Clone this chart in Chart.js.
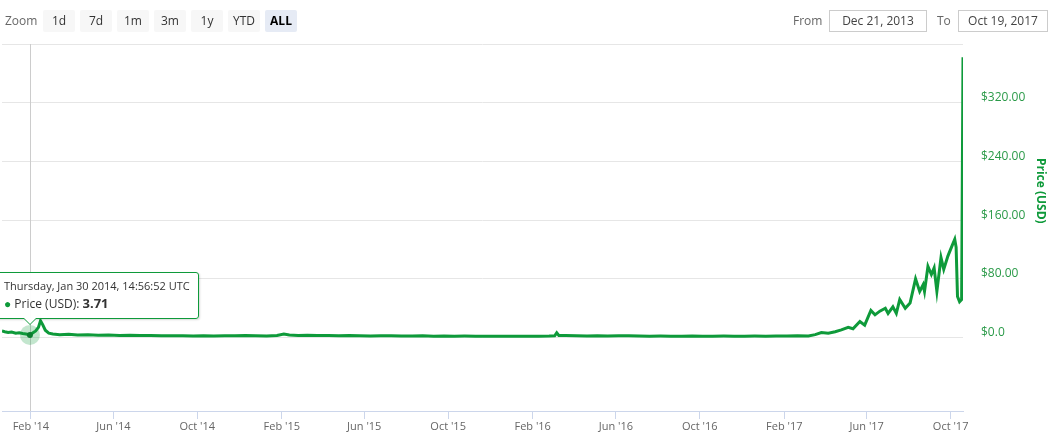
<!DOCTYPE html>
<html>
<head>
<meta charset="utf-8">
<script src="https://cdn.jsdelivr.net/npm/chart.js@4.4.0/dist/chart.umd.min.js"></script>
<style>
  body { margin: 0; background: #fff; font-family: 'Open Sans', sans-serif; }
  #wrap { position: relative; width: 1056px; height: 443px; overflow: hidden; }
  #chart { position: absolute; left: 0; top: 0; }
  .lbl { position: absolute; top: 12px; font-size: 12px; color: #666; line-height: 18px; }
  .btn { position: absolute; top: 10px; width: 32px; height: 22px; line-height: 22px; text-align: center;
         font-size: 12px; color: #333; background: #f7f7f7; border-radius: 2px; }
  .btn.sel { background: #e6ebf5; color: #000; font-weight: bold; }
  .box { position: absolute; top: 10px; height: 20px; line-height: 20px; border: 1px solid #ccc;
         font-size: 12px; color: #444; text-align: center; }
  #tip { position: absolute; display: none; background: rgba(255,255,255,0.95); border: 1px solid #0e9a3a;
         border-radius: 3px; box-shadow: 1px 1px 2px rgba(0,0,0,0.15); padding: 5px 8px 5px 8px;
         white-space: nowrap; pointer-events: none; }
  #tip .t { font-size: 11px; color: #333; line-height: 16px; }
  #tip .b { font-size: 12px; color: #333; line-height: 18px; }
  #tip .b b { font-size: 13px; }
  #tip .b span.dot { color: #0e9a3a; }
  #tip .caret { position: absolute; width: 0; height: 0; border-left: 7px solid transparent;
         border-right: 7px solid transparent; border-top: 7px solid #0e9a3a; }
  #tip .caret2 { position: absolute; width: 0; height: 0; border-left: 6px solid transparent;
         border-right: 6px solid transparent; border-top: 6px solid #fff; }
</style>
</head>
<body>
<div id="wrap">
  <canvas id="chart" width="1056" height="443"></canvas>
  <div class="lbl" style="left:5px">Zoom</div>
  <div class="btn" style="left:43px">1d</div>
  <div class="btn" style="left:80px">7d</div>
  <div class="btn" style="left:117px">1m</div>
  <div class="btn" style="left:154px">3m</div>
  <div class="btn" style="left:191px">1y</div>
  <div class="btn" style="left:228px">YTD</div>
  <div class="btn sel" style="left:265px">ALL</div>
  <div class="lbl" style="left:793px">From</div>
  <div class="box" style="left:829px;width:96px">Dec 21, 2013</div>
  <div class="lbl" style="left:937px">To</div>
  <div class="box" style="left:958px;width:88px">Oct 19, 2017</div>
  <div id="tip"><div class="t"></div><div class="b"></div><div class="caret"></div><div class="caret2"></div></div>
</div>
<script>
// Price history (USD)
const dates = [
  '2013-12-21', '2013-12-25', '2013-12-30', '2014-01-04', '2014-01-10', '2014-01-15', '2014-01-20', '2014-01-25',
  '2014-01-30T14:56:52Z', '2014-02-03', '2014-02-08', '2014-02-12', '2014-02-15', '2014-02-18', '2014-02-22', '2014-02-27',
  '2014-03-05', '2014-03-15', '2014-03-28', '2014-04-10', '2014-04-25', '2014-05-10', '2014-05-25', '2014-06-10',
  '2014-06-25', '2014-07-10', '2014-07-25', '2014-08-10', '2014-08-25', '2014-09-10', '2014-09-25', '2014-10-10',
  '2014-10-25', '2014-11-10', '2014-11-25', '2014-12-10', '2014-12-25', '2015-01-10', '2015-01-25', '2015-02-04',
  '2015-02-12', '2015-02-25', '2015-03-10', '2015-03-25', '2015-04-10', '2015-04-25', '2015-05-10', '2015-05-25',
  '2015-06-10', '2015-06-25', '2015-07-10', '2015-07-25', '2015-08-10', '2015-08-25', '2015-09-10', '2015-09-25',
  '2015-10-10', '2015-10-25', '2015-11-10', '2015-11-25', '2015-12-10', '2015-12-25', '2016-01-10', '2016-01-25',
  '2016-02-10', '2016-02-25', '2016-03-04', '2016-03-07', '2016-03-10', '2016-03-20', '2016-04-05', '2016-04-20',
  '2016-05-05', '2016-05-20', '2016-06-05', '2016-06-20', '2016-07-05', '2016-07-20', '2016-08-05', '2016-08-20',
  '2016-09-05', '2016-09-20', '2016-10-05', '2016-10-20', '2016-11-05', '2016-11-20', '2016-12-05', '2016-12-20',
  '2017-01-05', '2017-01-20', '2017-02-05', '2017-02-20', '2017-03-08', '2017-03-18', '2017-03-27', '2017-04-06',
  '2017-04-16', '2017-04-25', '2017-05-05', '2017-05-12', '2017-05-22', '2017-05-29', '2017-06-07', '2017-06-13',
  '2017-06-20', '2017-06-28', '2017-07-02', '2017-07-09', '2017-07-14', '2017-07-19', '2017-07-27', '2017-08-03',
  '2017-08-11', '2017-08-17', '2017-08-22', '2017-08-24', '2017-08-29', '2017-09-03', '2017-09-07', '2017-09-11',
  '2017-09-17', '2017-09-21', '2017-09-27', '2017-10-03', '2017-10-07', '2017-10-09', '2017-10-11', '2017-10-14',
  '2017-10-17', '2017-10-19'
];
const prices = [
  9, 8, 7, 7.5, 6, 6.5, 5.5, 5,
  3.71, 6, 9, 14, 23, 18, 10, 6,
  5, 4, 4.5, 3.5, 3.8, 3.2, 3.5, 3,
  3.3, 2.8, 3, 2.6, 2.4, 2.6, 2.2, 2.5,
  2.3, 2.6, 2.4, 2.8, 2.5, 2.3, 3, 5,
  3.5, 3, 3.2, 2.8, 2.7, 2.5, 2.8, 2.4,
  2.2, 2.5, 2.6, 2.3, 2.1, 2.4, 2, 2.2,
  1.9, 2.1, 2, 1.8, 2, 1.9, 1.8, 2,
  1.9, 2.1, 2.4, 6.5, 3, 2.8, 2.6, 2.3,
  2.5, 2.2, 2.6, 2.4, 2.2, 2, 2.1, 1.9,
  2, 2.2, 2, 1.9, 2.1, 2, 1.9, 2.1,
  2, 2.2, 2.1, 2.4, 2.3, 4, 6.9, 6,
  8, 10.5, 14, 12, 22, 17, 37, 31,
  36, 40, 33, 42, 33, 52, 40, 47,
  80, 63, 72, 63, 97, 86, 95, 63,
  109, 93, 111, 125, 134, 123, 56, 49,
  52, 382
];
const xStart = '2013-12-21';
const xEnd = '2017-10-19';
const xTickDates = ['2014-02-01', '2014-06-01', '2014-10-01', '2015-02-01', '2015-06-01', '2015-10-01',
  '2016-02-01', '2016-06-01', '2016-10-01', '2017-02-01', '2017-06-01', '2017-10-01'];
const yTicks = [0, 80, 160, 240, 320, 400];
const yMin = -100;
const yMax = 400;
const seriesName = 'Price (USD)';
const activeDate = '2014-01-30T14:56:52Z';

const green = '#0e9a3a';
const monthNames = ['Jan', 'Feb', 'Mar', 'Apr', 'May', 'Jun', 'Jul', 'Aug', 'Sep', 'Oct', 'Nov', 'Dec'];
const dayNames = ['Sunday', 'Monday', 'Tuesday', 'Wednesday', 'Thursday', 'Friday', 'Saturday'];
const pad2 = n => String(n).padStart(2, '0');

const points = dates.map((d, i) => ({ x: Date.parse(d), y: prices[i] }));
const activeIndex = dates.indexOf(activeDate);

// crosshair + halo around the hovered point, and the rotated axis title
const extras = {
  id: 'extras',
  beforeDatasetsDraw(chart) {
    const el = chart.getDatasetMeta(0).data[activeIndex];
    if (!el) return;
    const { ctx, chartArea } = chart;
    ctx.save();
    ctx.strokeStyle = '#cccccc';
    ctx.lineWidth = 1;
    ctx.beginPath();
    ctx.moveTo(Math.round(el.x) + 0.5, chartArea.top);
    ctx.lineTo(Math.round(el.x) + 0.5, chartArea.bottom);
    ctx.stroke();
    ctx.restore();
  },
  afterDatasetsDraw(chart) {
    const { ctx } = chart;
    const el = chart.getDatasetMeta(0).data[activeIndex];
    if (el) {
      ctx.save();
      ctx.fillStyle = 'rgba(14,154,58,0.25)';
      ctx.beginPath();
      ctx.arc(el.x, el.y, 10, 0, Math.PI * 2);
      ctx.fill();
      ctx.fillStyle = '#0b7d2f';
      ctx.beginPath();
      ctx.arc(el.x, el.y, 3, 0, Math.PI * 2);
      ctx.fill();
      ctx.restore();
    }
    const ys = chart.scales.y;
    ctx.save();
    ctx.translate(chart.width - 16, ys.getPixelForValue((yTicks[0] + yTicks[yTicks.length - 1]) / 2));
    ctx.rotate(Math.PI / 2);
    ctx.font = "bold 12px 'Open Sans'";
    ctx.fillStyle = green;
    ctx.textAlign = 'center';
    ctx.textBaseline = 'middle';
    ctx.fillText(seriesName, 0, 0);
    ctx.restore();
  }
};

function externalTip(context) {
  const { tooltip } = context;
  const tip = document.getElementById('tip');
  if (!tooltip.dataPoints || !tooltip.dataPoints.length) { tip.style.display = 'none'; return; }
  const dp = tooltip.dataPoints[0];
  const d = new Date(dp.raw.x);
  tip.querySelector('.t').textContent = dayNames[d.getUTCDay()] + ', ' + monthNames[d.getUTCMonth()] + ' ' +
    pad2(d.getUTCDate()) + ' ' + d.getUTCFullYear() + ', ' + pad2(d.getUTCHours()) + ':' +
    pad2(d.getUTCMinutes()) + ':' + pad2(d.getUTCSeconds()) + ' UTC';
  tip.querySelector('.b').innerHTML = '<span class="dot">\u25CF</span> ' + seriesName + ': <b>' + dp.raw.y.toFixed(2) + '</b>';
  tip.style.display = 'block';
  const w = tip.offsetWidth, h = tip.offsetHeight;
  const px = dp.element.x, py = dp.element.y;
  const left = Math.max(-5, px - w / 2);
  const top = py - 16 - h;
  tip.style.left = left + 'px';
  tip.style.top = top + 'px';
  const c1 = tip.querySelector('.caret'), c2 = tip.querySelector('.caret2');
  c1.style.left = (px - left - 8) + 'px';
  c1.style.top = (h - 2) + 'px';
  c2.style.left = (px - left - 7) + 'px';
  c2.style.top = (h - 2) + 'px';
}

const chart = new Chart(document.getElementById('chart'), {
  type: 'line',
  data: {
    datasets: [{
      label: seriesName,
      data: points,
      borderColor: green,
      borderWidth: 3,
      pointRadius: 0,
      pointHoverRadius: 0,
      tension: 0,
      fill: false
    }]
  },
  plugins: [extras],
  options: {
    responsive: false,
    animation: false,
    events: [],
    layout: { padding: { top: 44, left: 2, right: 0, bottom: 0 } },
    plugins: {
      legend: { display: false },
      tooltip: { enabled: false, external: externalTip, mode: 'nearest', intersect: false }
    },
    scales: {
      x: {
        type: 'linear',
        position: 'bottom',
        min: Date.parse(xStart),
        max: Date.parse(xEnd),
        afterBuildTicks: s => { s.ticks = xTickDates.map(d => ({ value: Date.parse(d) })); },
        afterFit: s => { s.height = 32; },
        grid: { drawOnChartArea: false, drawTicks: true, tickLength: 8, color: '#ccd6eb' },
        border: { color: '#ccd6eb' },
        ticks: {
          autoSkip: false, maxRotation: 0, padding: 1, color: '#666',
          font: { family: "'Open Sans'", size: 11 },
          callback: v => { const d = new Date(v); return monthNames[d.getUTCMonth()] + " '" + String(d.getUTCFullYear()).slice(2); }
        }
      },
      y: {
        type: 'linear',
        position: 'right',
        min: yMin,
        max: yMax,
        afterBuildTicks: s => { s.ticks = yTicks.map(v => ({ value: v })); },
        afterFit: s => { s.width = 93; },
        grid: { color: '#e6e6e6', drawTicks: false },
        border: { display: false },
        ticks: {
          padding: 18, labelOffset: -5, color: '#2a9a48',
          font: { family: "'Open Sans'", size: 12 },
          callback: v => v === yMax ? '' : (v === 0 ? '$0.0' : '$' + v.toFixed(2))
        }
      }
    }
  }
});

chart.tooltip.setActiveElements([{ datasetIndex: 0, index: activeIndex }], { x: 0, y: 0 });
chart.update();
</script>
</body>
</html>
